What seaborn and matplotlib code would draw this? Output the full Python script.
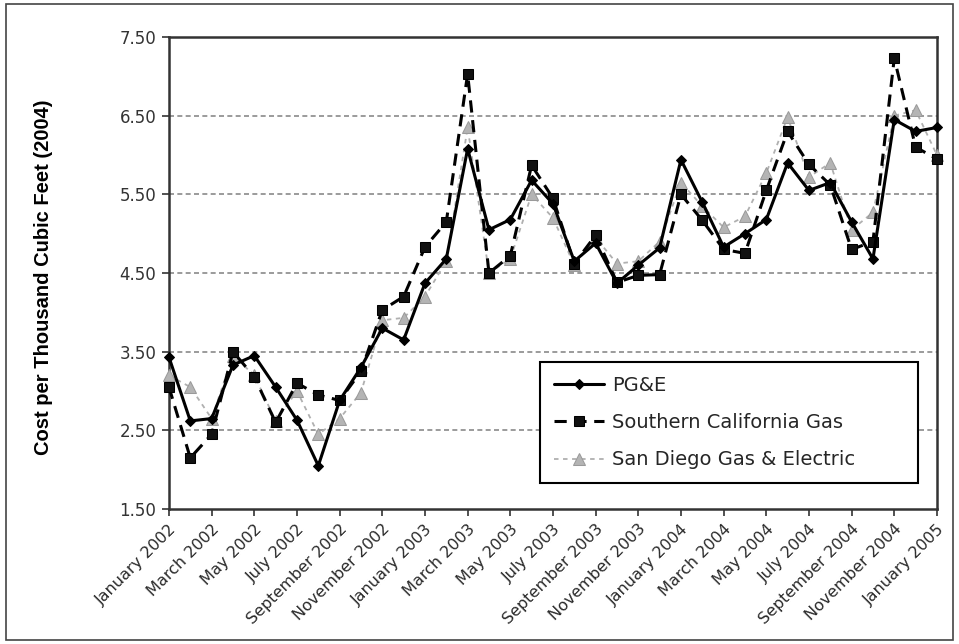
import numpy as np
import pandas as pd
import matplotlib
matplotlib.use("Agg")
import matplotlib.pyplot as plt
from matplotlib.patches import Rectangle
import seaborn as sns

# ---- data -------------------------------------------------------------
months = [
    "January 2002", "February 2002", "March 2002", "April 2002", "May 2002", "June 2002",
    "July 2002", "August 2002", "September 2002", "October 2002", "November 2002", "December 2002",
    "January 2003", "February 2003", "March 2003", "April 2003", "May 2003", "June 2003",
    "July 2003", "August 2003", "September 2003", "October 2003", "November 2003", "December 2003",
    "January 2004", "February 2004", "March 2004", "April 2004", "May 2004", "June 2004",
    "July 2004", "August 2004", "September 2004", "October 2004", "November 2004", "December 2004",
    "January 2005",
]
tick_labels = months[::2]

pge = [3.43, 2.62, 2.65, 3.33, 3.45, 3.05, 2.63, 2.05, 2.88, 3.30, 3.80, 3.65,
       4.37, 4.68, 6.08, 5.05, 5.18, 5.68, 5.38, 4.65, 4.88, 4.37, 4.60, 4.82,
       5.94, 5.40, 4.83, 5.00, 5.18, 5.90, 5.55, 5.65, 5.15, 4.68, 6.45, 6.30,
       6.35]
socal = [3.05, 2.15, 2.45, 3.50, 3.18, 2.60, 3.10, 2.95, 2.88, 3.25, 4.03, 4.20,
         4.83, 5.15, 7.03, 4.50, 4.72, 5.87, 5.45, 4.62, 4.98, 4.38, 4.47, 4.48,
         5.50, 5.17, 4.80, 4.75, 5.55, 6.30, 5.88, 5.62, 4.80, 4.90, 7.23, 6.10,
         5.95]
sdge = [3.20, 3.05, 2.65, 3.45, 3.20, 2.62, 3.00, 2.45, 2.65, 2.98, 3.90, 3.93,
        4.20, 4.65, 6.35, 4.50, 4.68, 5.50, 5.20, 4.60, 4.95, 4.62, 4.65, 4.90,
        5.65, 5.35, 5.08, 5.22, 5.77, 6.48, 5.72, 5.90, 5.05, 5.27, 6.50, 6.57,
        6.00]
series_names = ["PG&E", "Southern California Gas", "San Diego Gas & Electric"]
y_ticks = [1.50, 2.50, 3.50, 4.50, 5.50, 6.50, 7.50]
y_label = "Cost per Thousand Cubic Feet (2004)"

# ---- figure -----------------------------------------------------------
sns.set_theme(style="white")
plt.rcParams["font.family"] = ["DejaVu Sans"]

fig = plt.figure(figsize=(9.59, 6.44), dpi=100)
fig.patch.set_facecolor("white")
ax = fig.add_axes([0.1762, 0.2096, 0.8008, 0.7329])

x = np.arange(len(months))

sns.lineplot(x=x, y=sdge, ax=ax, color="#b0b0b0", lw=1.3, linestyle=(0, (2.5, 2.5)),
             marker="^", markersize=8, markeredgecolor="#9a9a9a",
             markerfacecolor="#b4b4b4", label=series_names[2], clip_on=False, zorder=3)
sns.lineplot(x=x, y=socal, ax=ax, color="black", lw=2.2, linestyle=(0, (4, 2.5)),
             marker="s", markersize=7, markeredgecolor="black",
             markerfacecolor="#111111", label=series_names[1], clip_on=False, zorder=4)
sns.lineplot(x=x, y=pge, ax=ax, color="black", lw=2.2, linestyle="-",
             marker="D", markersize=5.5, markeredgecolor="black",
             markerfacecolor="black", label=series_names[0], clip_on=False, zorder=5)

ax.set_xlim(0, len(months) - 1)
ax.set_ylim(1.5, 7.5)
ax.set_yticks(y_ticks)
ax.set_yticklabels([f"{v:.2f}" for v in y_ticks], fontsize=12, color="#333333")
ax.set_xticks(x[::2])
ax.set_xticklabels(tick_labels, rotation=45, ha="right", rotation_mode="anchor",
                   fontsize=11.5, color="#2a2a2a")
ax.tick_params(axis="both", which="major", direction="out", length=5, width=1.2,
               color="#333333", bottom=True, left=True, pad=4)

for yv in y_ticks[1:-1]:
    ax.axhline(yv, color="#8a8a8a", lw=1.2, linestyle=(0, (3, 2)), zorder=1)

for sp in ax.spines.values():
    sp.set_visible(True)
    sp.set_color("#333333")
    sp.set_linewidth(1.8)

ax.set_xlabel("")
ax.set_ylabel("")
fig.text(0.045, 0.57, y_label, rotation=90, ha="center", va="center",
         fontsize=14.5, fontweight="bold", family=["Liberation Sans", "DejaVu Sans"],
         color="black")

handles, labels = ax.get_legend_handles_labels()
order = [labels.index(n) for n in series_names]
leg = ax.legend([handles[i] for i in order], [labels[i] for i in order],
                loc="lower left", bbox_to_anchor=(0.483, 0.055, 0.492, 0.288),
                mode="expand", frameon=True, fancybox=False, framealpha=1,
                edgecolor="black", fontsize=14, handlelength=2.6,
                labelspacing=0.95, borderpad=0.7, handletextpad=0.4,
                borderaxespad=0)
leg.get_frame().set_linewidth(1.5)
leg.set_zorder(10)

fig.patches.append(Rectangle((0.006, 0.006), 0.988, 0.988, transform=fig.transFigure,
                             fill=False, edgecolor="#444444", lw=1.2))

fig.savefig("out.png", dpi=100, facecolor="white")
